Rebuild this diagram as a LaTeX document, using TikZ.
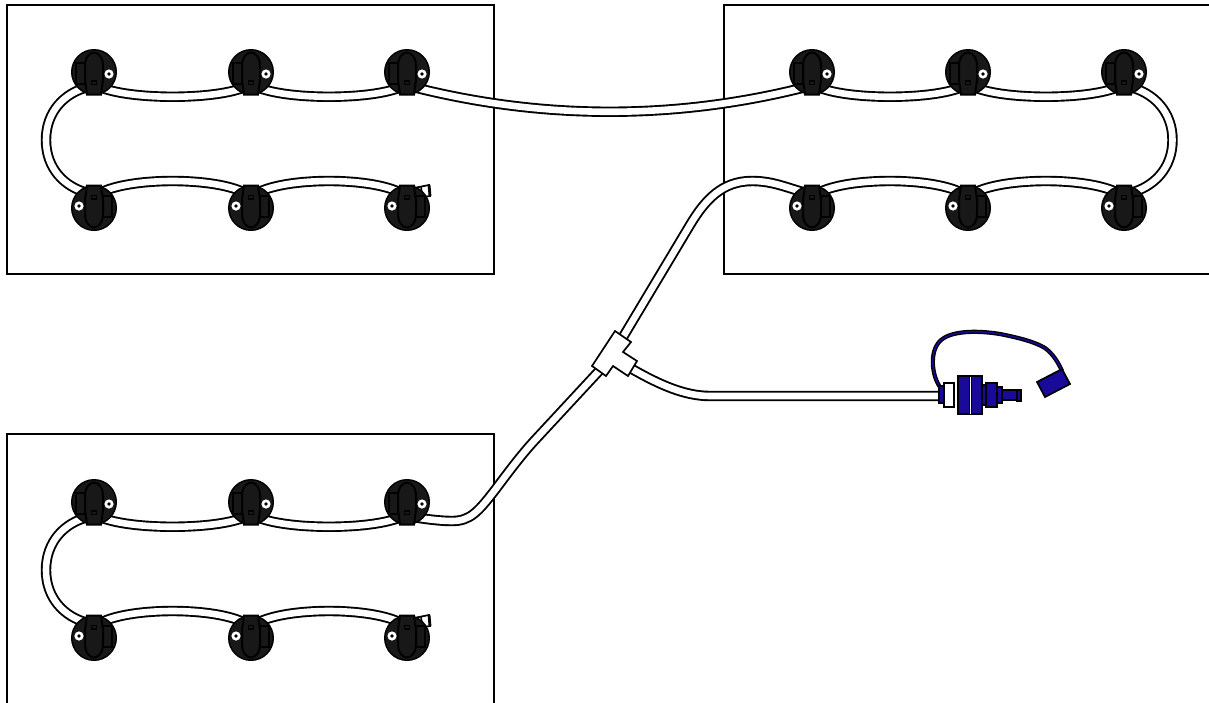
\documentclass[tikz,border=0pt]{standalone}
\usetikzlibrary{calc}
\definecolor{probedark}{HTML}{181818}
\definecolor{navyblue}{HTML}{1A0A9A}
\tikzset{
  x=1pt,y=-1pt,
  boxframe/.style={draw=black,line width=1.3pt,fill=white,rectangle,inner sep=0pt},
  tube/.style={draw=black,line width=1.9pt,double=white,double distance=6.6pt},
  blue part/.style={draw=black,line width=1.7pt,fill=navyblue},
  white part/.style={draw=black,line width=1.7pt,fill=white},
  ports/.pic={
    \coordinate (-L) at (-6,15);
    \coordinate (-R) at (6,15);
  },
  probe/.pic={
    \filldraw[fill=probedark,draw=black,line width=1.4pt] (0,0) circle (22.3);
    \draw[line width=1.5pt,fill=probedark] (-18,-9) rectangle (-9,12);
    \draw[line width=2pt,fill=probedark] (-9,8) -- (-9,-6) .. controls (-9,-15) and (-4,-19.5) .. (0,-19.5) .. controls (4,-19.5) and (9,-15) .. (9,-6) -- (9,8) -- (7,22.5) -- (-7,22.5) -- (-9,8) -- cycle;
    \draw[line width=1.4pt] (-2.5,12.5) rectangle (2.5,9);
    \fill[white] (15,2) circle (4.6);
    \fill[black] (15,2) circle (1.8);
  },
  plug/.pic={
    \draw[white part] (7,-20) -- (22,-23) -- (23,-12) -- (9,-10) -- cycle;
    \draw[line width=1.6pt] (14,-21.5) -- (15.5,-11);
    \draw[line width=2.8pt] (22,-23) -- (23,-12);
  }
}
\begin{document}
\begin{tikzpicture}
\clip (0,0) rectangle (1209,702);
\fill[white] (0,0) rectangle (1209,702);
% boxes
\node[boxframe,minimum width=487pt,minimum height=269pt] (box1) at (250.5,139.5) {};
\node[boxframe,minimum width=495pt,minimum height=269pt] (box2) at (971.5,139.5) {};
\node[boxframe,minimum width=487pt,minimum height=278pt] (box3) at (250.5,573) {};
% anchor points
\coordinate (loopA) at (46,140);
\coordinate (loopD) at (1172.5,140);
\coordinate (loopC) at (46,570);
\coordinate (teeA) at (623,337);
\coordinate (teeB) at (632,369);
\coordinate (teeC) at (599,371);
\coordinate (cableEnd) at (941,396);
\coordinate (cableStart) at (940,387);
\coordinate (capPoint) at (1062,371);
\foreach \n/\x in {a1/94,a2/251,a3/407,d1/812,d2/968,d3/1124}{\pic (\n) at (\x,72) {ports};}
\foreach \n/\x in {b1/94,b2/251,b3/407,e1/812,e2/968,e3/1124}{\pic[rotate=180] (\n) at (\x,208) {ports};}
\foreach \n/\x in {c1/94,c2/251,c3/407}{\pic (\n) at (\x,502) {ports};}
\foreach \n/\x in {f1/94,f2/251,f3/407}{\pic[rotate=180] (\n) at (\x,638) {ports};}
% tubes
\foreach \p/\q in {a1/a2,a2/a3,d1/d2,d2/d3,c1/c2,c2/c3}{
  \draw[tube] (\p-R) .. controls +(30,13) and +(-30,13) .. (\q-L);}
\foreach \p/\q in {b1/b2,b2/b3,e1/e2,e2/e3,f1/f2,f2/f3}{
  \draw[tube] (\p-L) .. controls +(30,-16) and +(-30,-16) .. (\q-R);}
\draw[tube] (a3-R) .. controls +(130,33) and +(-130,33) .. (d1-L);
\draw[tube] (a1-L) .. controls +(-24,6) and (46,112) .. (loopA) .. controls (46,168) and (64,187) .. (b1-R);
\draw[tube] (c1-L) .. controls +(-24,6) and (46,542) .. (loopC) .. controls (46,598) and (64,617) .. (f1-R);
\draw[tube] (d3-R) .. controls +(24,6) and (1172.5,112) .. (loopD) .. controls (1172.5,168) and (1154,187) .. (e3-L);
\draw[tube] (e1-R) .. controls (785,187) and (772,181) .. (752,181) .. controls (722,181) and (705,200) .. (690,225) -- (teeA);
\draw[tube] (teeC) -- (535,440) .. controls (522,454) and (510,470) .. (495,490) .. controls (478,512) and (470,521) .. (452,521) .. controls (440,521) and (425,519) .. (c3-R);
\draw[tube] (teeB) .. controls (660,385) and (685,396) .. (710,396) -- (cableEnd);
% tee
\draw[white part] (615,331) -- (631,342) -- (623,352) -- (637,361) -- (628,376) -- (613,366) -- (606,376) -- (592,366) -- cycle;
% plugs
\pic at (407,208) {plug};
\pic at (407,638) {plug};
% blue fitting
\draw[black,line width=4.2pt] (cableStart) .. controls (932,376) and (929,352) .. (940,341) .. controls (950,331) and (975,330) .. (1000,334) .. controls (1020,338) and (1035,342) .. (1045,348) .. controls (1053,354) and (1058,362) .. (capPoint);
\draw[navyblue,line width=1.5pt] (cableStart) .. controls (932,376) and (929,352) .. (940,341) .. controls (950,331) and (975,330) .. (1000,334) .. controls (1020,338) and (1035,342) .. (1045,348) .. controls (1053,354) and (1058,362) .. (capPoint);
\draw[blue part] (1037,382) -- (1062,369) -- (1070,384) -- (1045,397) -- cycle;
\draw[blue part] (939,386) rectangle (944,403);
\draw[white part] (944,383) rectangle (954,407);
\draw[blue part] (958,376) rectangle (982,414);
\filldraw[fill=white,draw=black,line width=.5pt] (969,376) rectangle (971,414);
\draw[blue part] (982,385) rectangle (986,405);
\draw[blue part] (986,383) rectangle (997,407);
\draw[blue part] (997,387) rectangle (1002,403);
\draw[blue part] (1002,390) rectangle (1017,400);
\draw[blue part] (1017,390) rectangle (1021,401);
% probes on top
\foreach \x in {94,251,407,812,968,1124}{\pic at (\x,72) {probe};}
\foreach \x in {94,251,407,812,968,1124}{\pic[rotate=180] at (\x,208) {probe};}
\foreach \x in {94,251,407}{\pic at (\x,502) {probe};}
\foreach \x in {94,251,407}{\pic[rotate=180] at (\x,638) {probe};}
\end{tikzpicture}
\end{document}
